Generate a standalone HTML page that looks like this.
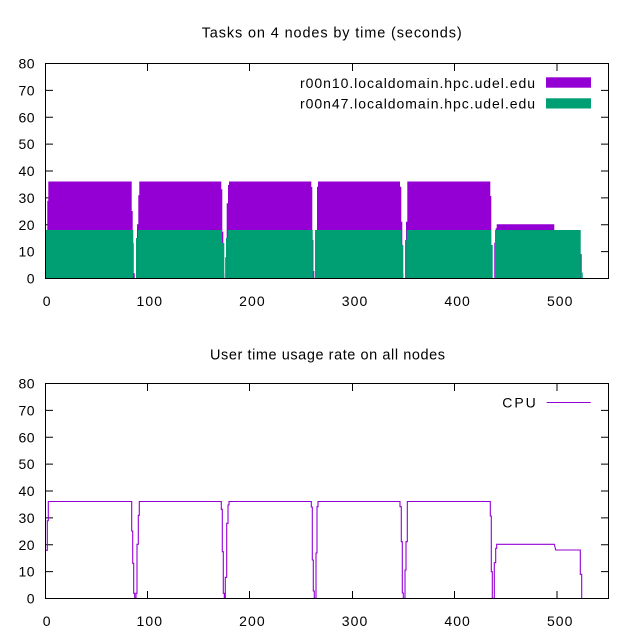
<!DOCTYPE html>
<html>
<head>
<meta charset="utf-8">
<style>
html,body{margin:0;padding:0;background:#fff;}
svg{display:block;}
text{font-family:"Liberation Sans",Arial,sans-serif;fill:#000;}
</style>
</head>
<body>
<svg width="624" height="637" viewBox="0 0 624 637" xmlns="http://www.w3.org/2000/svg">
<rect x="0" y="0" width="624" height="637" fill="#fff"/>

<!-- ===== TOP CHART ===== -->
<text x="201.7" y="37.3" font-size="14.5" textLength="260" lengthAdjust="spacing">Tasks on 4 nodes by time (seconds)</text>

<g stroke="#000" stroke-width="1" fill="none">
  <path d="M45.5 278.5H53M45.5 251.6H53M45.5 224.75H53M45.5 197.9H53M45.5 171H53M45.5 144.1H53M45.5 117.25H53M45.5 90.4H53M45.5 63.5H53"/>
  <path d="M608.5 278.5H601M608.5 251.6H601M608.5 224.75H601M608.5 197.9H601M608.5 171H601M608.5 144.1H601M608.5 117.25H601M608.5 90.4H601M608.5 63.5H601"/>
  <path d="M147.5 63.5V71M249.5 63.5V71M352.5 63.5V71M454.5 63.5V71M557 63.5V71"/>
  <path d="M147.5 278.5V271M249.5 278.5V271M352.5 278.5V271M454.5 278.5V271M557 278.5V271"/>
</g>

<g transform="translate(0,-320)">
<path fill="#9400D3" d="M45.5 598.5 V550.3 H47.3 V520.7 H48.3 V501.5 H131.7 V531 H132.7 V563.3 H133.7 V593.3 H134.7 V598.5 H136 V593.3 H137 V544.3 H138.3 V515.3 H139.3 V501.5 H221.3 V509.3 H222.3 V551.7 H223.3 V593.3 H224.3 V598.5 H225.3 V577.3 H226.7 V523.3 H228 V505 H229 V501.5 H311.3 V507 H312.3 V560 H313.3 V591 H314.3 V598.5 H316 V553 H317 V506.7 H318 V501.5 H400 V506.7 H401.3 V541.7 H402.3 V593 H403.3 V598.5 H405 V570 H406 V541.7 H407.3 V501.5 H490.3 V516 H491.3 V571.7 H492.3 V598.5 H494.3 V562.7 H495.7 V548.3 H496.7 V544.3 H554.3 V550 H580.3 V574.3 H581.7 V598.5 Z"/>
</g>

<g fill="#009E73">
  <rect x="45.5" y="230" width="87.8" height="48.5"/>
  <rect x="136" y="238" width="1.7" height="40.5"/>
  <rect x="137.7" y="230" width="84.3" height="48.5"/>
  <rect x="222" y="243" width="2.3" height="35.5"/>
  <rect x="226" y="238" width="1.7" height="40.5"/>
  <rect x="227.7" y="230" width="85" height="48.5"/>
  <rect x="312.7" y="240" width="0.8" height="38.5"/>
  <rect x="315" y="230" width="86.7" height="48.5"/>
  <rect x="401.7" y="245" width="1.6" height="33.5"/>
  <rect x="405" y="240" width="1.7" height="38.5"/>
  <rect x="406.7" y="230" width="84.3" height="48.5"/>
  <rect x="491" y="245" width="1.7" height="33.5"/>
  <rect x="495" y="230" width="85.7" height="48.5"/>
  <rect x="580.7" y="254" width="1" height="24.5"/>
  <rect x="581.7" y="272.7" width="1" height="5.8"/>
</g>

<rect x="45.5" y="63.5" width="563" height="215" fill="none" stroke="#000" stroke-width="1"/>

<g font-size="14" text-anchor="end">
  <text x="34.5" y="283.5" textLength="7.5" lengthAdjust="spacing">0</text>
  <text x="34.5" y="256.6" textLength="16" lengthAdjust="spacing">10</text>
  <text x="34.5" y="229.75" textLength="16" lengthAdjust="spacing">20</text>
  <text x="34.5" y="202.9" textLength="16" lengthAdjust="spacing">30</text>
  <text x="34.5" y="176" textLength="16" lengthAdjust="spacing">40</text>
  <text x="34.5" y="149.1" textLength="16" lengthAdjust="spacing">50</text>
  <text x="34.5" y="122.25" textLength="16" lengthAdjust="spacing">60</text>
  <text x="34.5" y="95.4" textLength="16" lengthAdjust="spacing">70</text>
  <text x="34.5" y="68.5" textLength="16" lengthAdjust="spacing">80</text>
</g>
<g font-size="14" text-anchor="middle">
  <text x="46.7" y="306" textLength="8" lengthAdjust="spacing">0</text>
  <text x="149.3" y="306" textLength="25.5" lengthAdjust="spacing">100</text>
  <text x="251.9" y="306" textLength="25.5" lengthAdjust="spacing">200</text>
  <text x="354.5" y="306" textLength="25.5" lengthAdjust="spacing">300</text>
  <text x="457.1" y="306" textLength="25.5" lengthAdjust="spacing">400</text>
  <text x="559.7" y="306" textLength="25.5" lengthAdjust="spacing">500</text>
</g>

<text x="300" y="88" font-size="14" textLength="235" lengthAdjust="spacing">r00n10.localdomain.hpc.udel.edu</text>
<rect x="546" y="77.3" width="45" height="10.4" fill="#9400D3"/>
<text x="300" y="108.3" font-size="14" textLength="235" lengthAdjust="spacing">r00n47.localdomain.hpc.udel.edu</text>
<rect x="546" y="98.3" width="45" height="10.2" fill="#009E73"/>

<!-- ===== BOTTOM CHART ===== -->
<text x="210" y="359.5" font-size="14.5" textLength="235" lengthAdjust="spacing">User time usage rate on all nodes</text>

<g stroke="#000" stroke-width="1" fill="none">
  <path d="M45.5 598.5H53M45.5 571.6H53M45.5 544.75H53M45.5 517.9H53M45.5 491H53M45.5 464.1H53M45.5 437.25H53M45.5 410.4H53M45.5 383.5H53"/>
  <path d="M608.5 598.5H601M608.5 571.6H601M608.5 544.75H601M608.5 517.9H601M608.5 491H601M608.5 464.1H601M608.5 437.25H601M608.5 410.4H601M608.5 383.5H601"/>
  <path d="M147.5 383.5V391M249.5 383.5V391M352.5 383.5V391M454.5 383.5V391M557 383.5V391"/>
  <path d="M147.5 598.5V591M249.5 598.5V591M352.5 598.5V591M454.5 598.5V591M557 598.5V591"/>
</g>

<path fill="none" stroke="#9400D3" stroke-width="1.1" d="M46 550.3 H47.3 V520.7 H48.3 V501.5 H131.7 V531 H132.7 V563.3 H133.7 V593.3 H134.7 V598.3 H136 V593.3 H137 V544.3 H138.3 V515.3 H139.3 V501.5 H221.3 V509.3 H222.3 V551.7 H223.3 V593.3 H224.3 V598.3 H225.3 V577.3 H226.7 V523.3 H228 V505 H229 V501.5 H311.3 V507 H312.3 V560 H313.3 V591 H314.3 V598.3 H316 V553 H317 V506.7 H318 V501.5 H400 V506.7 H401.3 V541.7 H402.3 V593 H403.3 V598.3 H405 V570 H406 V541.7 H407.3 V501.5 H490.3 V516 H491.3 V571.7 H492.3 V598.3 H494.3 V562.7 H495.7 V548.3 H496.7 V544.3 H554.3 L555.7 550 H580.3 V574.3 H581.7 V598.3"/>

<rect x="45.5" y="383.5" width="563" height="215" fill="none" stroke="#000" stroke-width="1"/>

<g font-size="14" text-anchor="end">
  <text x="34.5" y="603.5" textLength="7.5" lengthAdjust="spacing">0</text>
  <text x="34.5" y="576.6" textLength="16" lengthAdjust="spacing">10</text>
  <text x="34.5" y="549.75" textLength="16" lengthAdjust="spacing">20</text>
  <text x="34.5" y="522.9" textLength="16" lengthAdjust="spacing">30</text>
  <text x="34.5" y="496" textLength="16" lengthAdjust="spacing">40</text>
  <text x="34.5" y="469.1" textLength="16" lengthAdjust="spacing">50</text>
  <text x="34.5" y="442.25" textLength="16" lengthAdjust="spacing">60</text>
  <text x="34.5" y="415.4" textLength="16" lengthAdjust="spacing">70</text>
  <text x="34.5" y="388.5" textLength="16" lengthAdjust="spacing">80</text>
</g>
<g font-size="14" text-anchor="middle">
  <text x="46.7" y="626" textLength="8" lengthAdjust="spacing">0</text>
  <text x="149.3" y="626" textLength="25.5" lengthAdjust="spacing">100</text>
  <text x="251.9" y="626" textLength="25.5" lengthAdjust="spacing">200</text>
  <text x="354.5" y="626" textLength="25.5" lengthAdjust="spacing">300</text>
  <text x="457.1" y="626" textLength="25.5" lengthAdjust="spacing">400</text>
  <text x="559.7" y="626" textLength="25.5" lengthAdjust="spacing">500</text>
</g>

<text x="502.3" y="407.7" font-size="14" textLength="33.4" lengthAdjust="spacing">CPU</text>
<path d="M546.7 402.5H590.7" stroke="#9400D3" stroke-width="1.1"/>
</svg>
</body>
</html>
